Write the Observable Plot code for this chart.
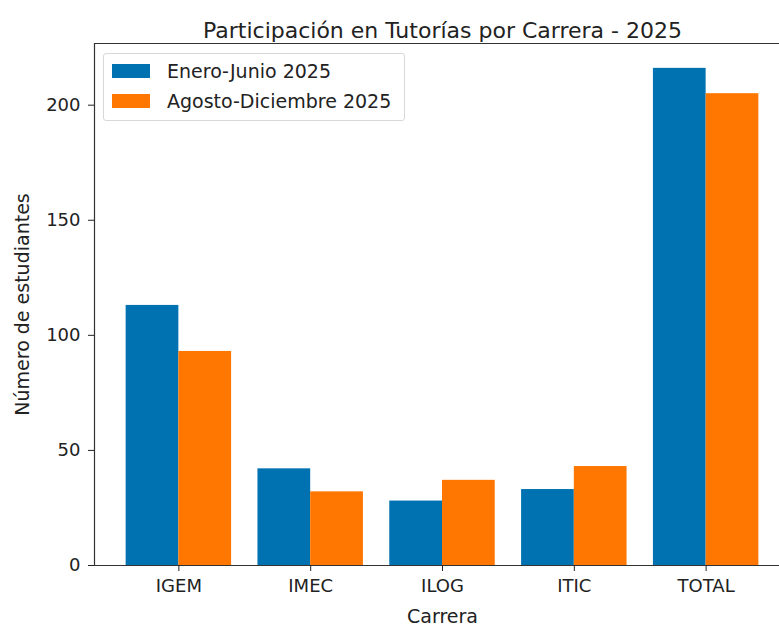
<!DOCTYPE html>
<html>
<head>
<meta charset="utf-8">
<script src="https://cdn.jsdelivr.net/npm/d3@7"></script>
<script src="https://cdn.jsdelivr.net/npm/@observablehq/plot@0.6"></script>
<style>
  html, body { margin: 0; padding: 0; background: #fff; overflow: hidden; }
  #wrap { position: relative; width: 779px; height: 625px; }
  #legend {
    position: absolute; left: 103px; top: 53px; width: 302px; height: 68px;
    border: 1px solid #d8d8d8; border-radius: 3px; background: rgba(255,255,255,0.8);
    font-family: "DejaVu Sans", sans-serif; font-size: 19px; color: #222; box-sizing: border-box;
  }
  .row { position: absolute; left: 8px; height: 22px; display: flex; align-items: center; white-space: nowrap; }
  .sw { width: 38px; height: 14px; margin-right: 17px; }
</style>
</head>
<body>
<div id="wrap"><div id="legend"></div></div>
<script>
const title = "Participación en Tutorías por Carrera - 2025";
const categories = ["IGEM", "IMEC", "ILOG", "ITIC", "TOTAL"];
const series = ["Enero-Junio 2025", "Agosto-Diciembre 2025"];
const eneroJunio = [113, 42, 28, 33, 216];
const agostoDiciembre = [93, 32, 37, 43, 205];
const yTicks = [0, 50, 100, 150, 200];
const colors = ["#0072B2", "#FF7700"];

const barWidth = 0.4;
const rows = [];
categories.forEach((c, i) => {
  rows.push({cat: c, serie: series[0], value: eneroJunio[i], x1: i - barWidth, x2: i});
  rows.push({cat: c, serie: series[1], value: agostoDiciembre[i], x1: i, x2: i + barWidth});
});
const yMax = d3.max(rows, d => d.value) * 1.05;
const xMin = -barWidth - 0.24, xMax = categories.length - 1 + barWidth + 0.24;

const chart = Plot.plot({
  width: 779,
  height: 625,
  marginLeft: 94,
  marginRight: -11,
  marginTop: 43,
  marginBottom: 60,
  style: {fontFamily: "DejaVu Sans, sans-serif", fontSize: "18px", color: "#222", background: "transparent"},
  x: {domain: [xMin, xMax]},
  y: {domain: [0, yMax]},
  color: {domain: series, range: colors},
  marks: [
    Plot.rectY(rows, {x1: "x1", x2: "x2", y: "value", fill: "serie"}),
    Plot.ruleY([0, yMax], {stroke: "#333", strokeWidth: 1.2}),
    Plot.ruleX([xMin], {stroke: "#333", strokeWidth: 1.2}),
    Plot.axisY({ticks: yTicks, tickSize: 6, tickPadding: 8, fontSize: 18, tickFormat: d => String(d), label: null}),
    Plot.axisY({ticks: [], label: "Número de estudiantes", labelAnchor: "center", labelArrow: "none", labelOffset: 79, fontSize: 19}),
    Plot.axisX({ticks: d3.range(categories.length), tickFormat: i => categories[i], tickSize: 6, tickPadding: 8, fontSize: 18, label: null}),
    Plot.axisX({ticks: [], label: "Carrera", labelAnchor: "center", labelArrow: "none", labelOffset: 57, fontSize: 19}),
    Plot.text([title], {text: d => d, frameAnchor: "top", dy: -21, fontSize: 22, fill: "#222"})
  ]
});
chart.style.position = "absolute";
chart.style.left = "0";
chart.style.top = "0";
chart.style.maxWidth = "none";
const wrap = document.getElementById("wrap");
wrap.insertBefore(chart, wrap.firstChild);

const legend = document.getElementById("legend");
series.forEach((s, i) => {
  const row = document.createElement("div");
  row.className = "row";
  row.style.top = (6 + i * 30) + "px";
  const sw = document.createElement("div");
  sw.className = "sw";
  sw.style.background = chart.scale("color").apply(s);
  const tx = document.createElement("span");
  tx.textContent = s;
  row.appendChild(sw); row.appendChild(tx);
  legend.appendChild(row);
});
</script>
</body>
</html>
